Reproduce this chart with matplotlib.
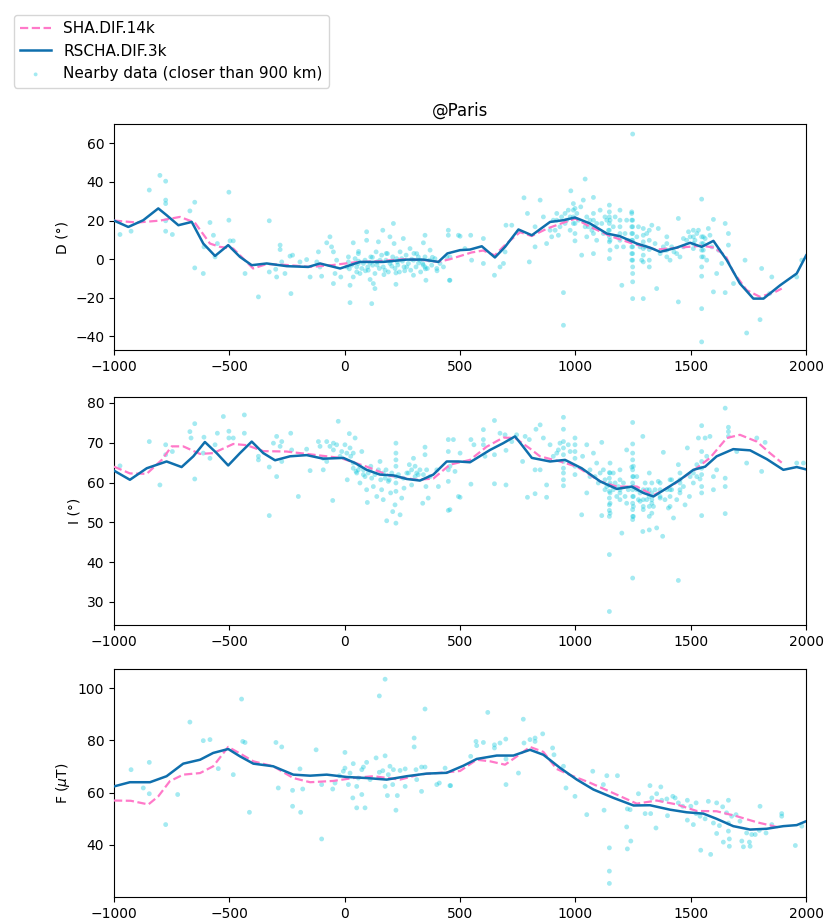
import numpy as np
import matplotlib
matplotlib.use("Agg")
import matplotlib.pyplot as plt

# --- model curves (year, value) ---
rscha_d = np.array([
    [-1000, 20.0], [-938, 16.7], [-873, 20.2], [-808, 26.3], [-772, 22.8], [-721, 17.6],
    [-663, 19.3], [-613, 8.1], [-562, 1.7], [-505, 7.3], [-454, 1.2], [-403, -3.1],
    [-338, -2.2], [-251, -3.6], [-158, -4.0], [-107, -2.2], [-20, -4.8], [66, -1.4],
    [167, -1.4], [269, -0.2], [341, -0.2], [406, -1.4], [445, 3.0], [500, 4.7], [543, 5.0],
    [594, 6.7], [651, 0.9], [695, 6.4], [753, 15.4], [811, 12.4], [890, 19.3], [948, 20.2],
    [998, 21.6], [1063, 18.5], [1136, 13.3], [1193, 11.9], [1266, 8.1], [1323, 6.0],
    [1367, 3.8], [1439, 6.0], [1497, 8.5], [1547, 6.4], [1598, 9.5], [1656, -0.5],
    [1713, -12.6], [1771, -20.4], [1815, -20.4], [1887, -13.5], [1959, -7.4], [2000, 2.0],
])
sha_d = np.array([
    [-1000, 20.0], [-900, 19.0], [-800, 20.0], [-714, 21.9], [-650, 19.0], [-584, 8.1],
    [-541, 6.4], [-483, 5.5], [-397, -4.8], [-338, -2.5], [-250, -3.0], [-150, -4.0],
    [-50, -3.0], [50, -1.5], [150, -1.0], [250, 0.0], [350, -0.5], [406, -1.4], [456, 0.0],
    [550, 3.5], [600, 4.5], [650, 2.0], [700, 8.0], [760, 14.0], [810, 12.0], [880, 16.0],
    [950, 19.0], [1000, 21.0], [1060, 17.0], [1150, 12.0], [1250, 8.0], [1350, 5.0],
    [1450, 6.0], [1550, 7.0], [1600, 6.0], [1650, 2.0], [1684, -6.6], [1742, -16.0],
    [1800, -19.5], [1865, -17.0], [1894, -15.2],
])
rscha_i = np.array([
    [-1000, 63.0], [-931, 60.7], [-858, 63.6], [-772, 65.3], [-707, 63.9], [-656, 66.6],
    [-606, 70.2], [-555, 67.4], [-505, 64.3], [-454, 67.4], [-403, 70.3], [-353, 67.4],
    [-302, 65.6], [-237, 66.6], [-165, 66.9], [-93, 66.0], [-6, 66.2], [45, 64.9], [95, 63.2],
    [153, 62.0], [211, 61.8], [269, 60.9], [326, 60.5], [384, 62.0], [442, 65.3], [492, 65.3],
    [543, 65.1], [630, 68.2], [687, 69.9], [738, 71.6], [767, 69.5], [811, 66.2], [890, 65.3],
    [955, 65.7], [1027, 63.6], [1107, 60.3], [1179, 58.4], [1244, 59.0], [1294, 57.4],
    [1338, 56.5], [1396, 58.6], [1453, 60.7], [1511, 63.2], [1562, 64.0], [1612, 66.6],
    [1684, 68.4], [1757, 68.1], [1829, 65.9], [1901, 63.2], [1959, 63.9], [2000, 63.3],
])
sha_i = np.array([
    [-1000, 64.0], [-931, 62.3], [-858, 62.2], [-793, 65.7], [-750, 69.1], [-700, 69.1],
    [-627, 67.2], [-570, 67.4], [-483, 69.7], [-425, 69.4], [-353, 67.9], [-252, 67.8],
    [-136, 67.0], [-20, 66.2], [95, 64.0], [196, 61.7], [312, 60.7], [384, 61.0], [456, 64.5],
    [543, 65.7], [615, 69.0], [687, 71.3], [738, 71.2], [804, 68.5], [846, 66.6], [933, 65.3],
    [1006, 64.0], [1107, 60.3], [1179, 59.0], [1266, 59.0], [1338, 56.8], [1425, 59.5],
    [1511, 63.0], [1583, 66.2], [1656, 71.2], [1713, 72.0], [1786, 70.3], [1843, 67.4],
    [1894, 65.0],
])
rscha_f = np.array([
    [-1000, 62.4], [-931, 64.0], [-844, 64.0], [-772, 66.3], [-700, 71.1], [-627, 72.6],
    [-570, 75.2], [-505, 76.7], [-454, 73.9], [-396, 71.1], [-310, 70.1], [-223, 66.9],
    [-150, 66.5], [-78, 66.9], [9, 66.0], [95, 65.6], [182, 65.0], [269, 66.3], [355, 67.3],
    [442, 67.6], [514, 70.3], [572, 72.9], [659, 74.2], [731, 74.2], [803, 76.4], [861, 74.5],
    [933, 69.5], [1006, 65.0], [1078, 61.2], [1165, 58.0], [1252, 55.1], [1323, 55.2],
    [1410, 53.5], [1482, 52.5], [1554, 52.0], [1612, 50.0], [1684, 47.2], [1757, 45.9],
    [1829, 46.2], [1901, 47.2], [1959, 47.6], [2000, 49.1],
])
sha_f = np.array([
    [-1000, 57.0], [-927, 56.9], [-851, 55.5], [-808, 58.6], [-758, 64.4], [-700, 66.9],
    [-627, 67.5], [-570, 70.1], [-505, 77.5], [-454, 75.0], [-396, 72.0], [-310, 70.1],
    [-223, 65.6], [-150, 64.0], [-49, 64.5], [37, 65.6], [124, 66.3], [240, 65.0], [326, 67.0],
    [442, 67.8], [500, 68.3], [572, 72.6], [630, 72.0], [695, 70.7], [745, 73.8], [803, 77.5],
    [861, 75.6], [918, 69.1], [976, 66.8], [1063, 63.8], [1165, 59.8], [1266, 55.8],
    [1352, 57.0], [1439, 55.5], [1526, 53.0], [1612, 52.9], [1699, 51.0], [1786, 48.7],
    [1887, 46.6],
])

# --- nearby observations (year, value) ---
d_obs = np.array([
    [-974, 12.8], [-926, 14.5], [-847, 35.8], [-801, 43.4], [-776, 40.4], [-776, 30.6], [-776, 28.8],
    [-776, 19.9], [-776, 14.5], [-747, 12.8], [-671, 25.0], [-650, 29.5], [-650, -4.5], [-613, -7.4],
    [-584, 19.0], [-569, 12.4], [-610, 6.4], [-562, 1.2], [-552, 8.1], [-502, 34.7], [-502, 20.2],
    [-497, 9.5], [-483, 9.5], [-432, -7.4], [-374, -19.5], [-327, 19.9], [-327, -6.6], [-280, 7.3],
    [-280, 5.0], [-299, -5.2], [-295, -9.2], [-273, -1.4], [-259, -7.4], [-237, 1.6], [-233, -17.8],
    [-226, 2.1], [-194, -1.4], [-165, -0.2], [-150, -9.2], [-121, -1.4], [-114, 3.8], [-107, -4.0],
    [-100, -8.8], [-78, 8.5], [-64, 11.6], [-57, 6.4], [-49, 3.8], [-49, -12.6], [-42, -7.4],
    [-35, -0.5], [-17, -9.2], [9, -4.0], [16, 1.2], [23, -13.5], [23, -22.5], [37, -9.2], [37, 8.5],
    [52, -4.0], [59, 2.9], [66, -7.4], [81, -2.2], [95, 14.2], [95, 9.8], [100, -4.0], [110, -10.5],
    [117, -23.0], [124, -12.6], [131, -15.2], [136, 3.8], [146, 9.0], [153, -0.5], [165, 15.0],
    [175, -5.7], [185, 2.9], [196, 11.6], [204, -3.6], [211, 18.5], [214, 8.1], [222, -7.1],
    [222, -13.0], [225, 0.3], [240, 3.8], [254, 10.7], [269, -4.0], [283, 5.5], [298, -8.3],
    [312, 2.9], [326, -0.5], [341, 8.5], [348, 12.4], [348, -4.0], [352, -10.9], [370, 4.7],
    [399, -4.8], [449, 15.0], [449, 12.4], [454, -10.9], [493, 12.4],
    [16, -1.4], [30, -3.1], [45, 0.3], [52, -6.6], [59, -2.2], [74, -4.8], [88, -0.5], [102, -5.7],
    [113, 1.2], [121, -3.1], [131, -7.4], [141, -1.4], [150, -4.8], [160, 2.1], [167, -4.0],
    [179, -0.5], [189, -6.6], [196, -2.2], [208, 1.2], [218, -4.8], [228, -1.4], [237, -6.6],
    [247, 0.3], [257, -4.0], [266, 2.1], [276, -2.2], [286, -5.7], [298, -0.5], [309, -4.0],
    [319, 1.2], [329, -6.6], [338, -2.2], [348, 1.2], [358, -4.8], [367, -0.5], [377, -3.1],
    [391, 0.3], [413, -2.2], [428, -4.0], [442, 1.2],
    [20, -5.0], [60, -1.0], [90, -6.0], [120, 1.0], [140, -3.0], [170, -8.0], [200, -1.0],
    [230, -3.0], [260, -6.0], [290, 0.0], [320, -2.0], [350, -5.0], [380, 1.0], [60, 4.0],
    [110, -2.0], [180, 3.0], [250, -1.0], [300, 3.0], [340, -3.0], [400, -6.0],
    [456, -10.9], [456, 1.2], [500, 11.9], [521, 5.5], [546, 12.4], [550, -0.5], [601, 10.7],
    [601, -2.2], [649, -8.3], [673, -4.0], [688, -2.2], [695, 3.8], [699, 17.6], [724, 17.6],
    [753, 14.2], [777, 31.8], [792, 23.7], [800, -1.4], [825, 16.8], [825, 6.4], [847, 30.6],
    [861, 21.9], [875, 8.1], [890, 15.0], [897, 11.6], [919, 23.7], [919, 20.2], [926, 12.4],
    [940, 21.9], [948, -17.3], [948, -34.2], [955, 23.7], [962, 20.2], [969, 25.4], [980, 35.4],
    [991, 28.8], [998, 26.3], [998, 13.3], [998, 9.5], [1013, 20.2], [1027, 2.1], [1034, 30.6],
    [1042, 41.5], [1049, 21.9], [1056, 16.8], [1078, 32.0], [1078, 2.9], [1092, 18.5],
    [1107, 25.4], [1121, 13.3], [1136, 20.2], [1147, 28.0], [1147, 0.3], [1164, 16.8],
    [1179, 11.6], [1193, 25.4], [1201, -13.5], [1208, 6.4], [1222, 20.2], [1244, 24.5],
    [1248, 64.8], [1248, -20.4], [1248, 20.2], [1248, 16.8], [1248, 13.3], [1248, 9.8],
    [1248, 6.4], [1248, 2.9], [1248, -0.5], [1248, -4.0], [1248, -7.4], [1248, -11.7],
    [1273, 16.8], [1287, -0.5], [1294, -20.4], [1302, 6.4], [1320, 15.0], [1320, 9.8],
    [1320, 5.0], [1320, -0.5], [1320, -4.0], [1331, 17.6], [1352, -15.2], [1359, 15.9],
    [1381, 6.4], [1396, 11.6], [1410, -0.5], [1427, 3.8], [1446, 21.1], [1446, -22.1],
    [1453, 1.2], [1468, 10.7], [1490, 14.2], [1511, 5.5], [1533, 15.0], [1547, 31.1],
    [1547, -4.0], [1547, -8.8], [1547, -25.6], [1547, -42.8], [1547, 11.6], [1547, 8.1],
    [1547, 4.7], [1547, 1.2], [1569, -0.5], [1576, 15.9], [1598, 20.6], [1598, -16.9],
    [1612, -7.4], [1634, -2.2], [1649, 18.5], [1649, -17.3], [1663, 13.3], [1663, 7.3],
    [1685, -12.6], [1735, -0.5], [1742, -38.2], [1800, -31.3], [1807, -4.8], [1841, -17.8],
    [1851, -9.2], [1959, -9.2], [1981, -0.5],
    [904, 20.2], [912, 15.0], [933, 16.8], [955, 18.5], [977, 21.9], [977, 15.0], [998, 18.5],
    [1006, 23.7], [1023, 27.1], [1042, 16.8], [1049, 11.6], [1063, 20.2], [1071, 15.0],
    [1092, 9.8], [1114, 18.5], [1128, 21.9], [1143, 15.0], [1150, 9.8], [1150, 4.7],
    [1150, 20.2], [1172, 21.9], [1179, 6.4], [1193, 16.8], [1215, 13.3], [1229, 9.8],
    [1266, 11.6], [1280, 6.4], [1309, 13.3], [1345, 8.1], [1367, 2.9], [1388, 4.7],
    [1417, 6.4], [1439, 2.9], [1468, 6.4], [1482, 9.8], [1497, 11.6], [1518, 9.8],
    [1526, 13.3], [1562, 10.7], [1583, 12.4], [1591, 6.4], [1620, 4.7],
    [1147, 24.5], [1147, 21.9], [1147, 18.5], [1147, 15.0], [1147, 11.6], [1147, 9.0],
    [1244, 23.7], [1244, 20.2], [1244, 16.8], [1244, 13.3], [1244, 9.8], [1244, 6.4],
    [1244, 2.9], [1244, -0.5], [1294, 15.9], [1294, 12.4], [1294, 9.0], [1294, 5.5],
    [1294, 2.1], [1294, -1.4], [991, 25.4], [991, 21.9], [991, 18.5], [1078, 23.7],
    [1078, 20.2], [1078, 16.8], [1078, 13.3], [1193, 20.2], [1193, 13.3], [1193, 9.8],
    [1396, 8.1], [1396, 4.7], [1396, 1.2], [1511, 15.0], [1511, 11.6], [1511, 8.1],
    [1554, 11.6], [1554, 8.1], [1554, 4.7], [1554, 1.2],
])

i_obs = np.array([
    [-974, 64.2], [-847, 70.3], [-801, 59.4], [-776, 69.5], [-776, 67.0], [-747, 67.8], [-671, 72.8],
    [-666, 71.2], [-650, 74.8], [-650, 60.9], [-613, 67.4], [-610, 71.4], [-584, 66.1], [-562, 69.5],
    [-552, 72.4], [-526, 76.6], [-502, 72.9], [-502, 71.2], [-483, 71.2], [-435, 77.0], [-435, 72.4],
    [-374, 66.6], [-374, 65.7], [-327, 63.9], [-327, 51.7], [-309, 69.9], [-295, 71.6], [-295, 61.5],
    [-280, 69.1], [-273, 70.3], [-273, 65.3], [-234, 72.4], [-230, 68.2], [-201, 56.5], [-165, 68.4],
    [-150, 63.0], [-114, 70.3], [-107, 69.1], [-93, 66.1], [-93, 63.2], [-78, 70.3], [-78, 65.3],
    [-64, 69.1], [-52, 55.5], [-49, 69.9], [-28, 75.4], [-20, 66.6], [1, 69.5], [11, 60.7],
    [20, 72.3], [26, 66.6], [37, 64.9], [45, 71.2], [49, 62.8], [59, 63.2], [66, 59.9], [74, 67.8],
    [81, 62.0], [95, 58.2], [98, 55.0], [110, 63.2], [117, 61.1], [124, 59.0], [139, 56.5],
    [153, 65.3], [160, 58.2], [167, 55.7], [175, 61.1], [182, 50.4], [193, 60.7], [199, 57.4],
    [208, 52.7], [218, 54.4], [222, 69.9], [222, 67.4], [222, 65.7], [222, 64.1], [222, 61.5],
    [222, 59.9], [222, 57.8], [222, 49.8], [240, 51.9], [247, 56.1], [257, 58.6], [269, 62.4],
    [280, 64.5], [290, 59.4], [298, 66.1], [305, 64.1], [312, 62.4], [326, 63.2], [338, 54.8],
    [348, 68.9], [348, 67.0], [352, 59.0], [362, 56.1], [399, 63.2], [406, 59.0], [449, 70.8],
    [449, 67.8], [449, 63.2], [449, 60.3], [449, 53.0], [493, 56.5],
    [37, 63.6], [52, 62.4], [66, 64.1], [81, 63.2], [88, 61.5], [102, 62.4], [113, 64.1],
    [131, 62.0], [146, 63.2], [156, 60.7], [167, 62.4], [179, 63.2], [189, 60.3], [204, 62.4],
    [233, 62.0], [254, 61.1], [276, 62.4], [290, 63.2], [305, 61.5], [319, 62.0], [341, 62.0],
    [355, 63.2], [370, 61.5], [-49, 68.2], [-35, 69.5], [-13, 67.8], [9, 67.4], [23, 68.7],
    [37, 67.4],
    [456, 64.1], [456, 53.2], [471, 70.8], [478, 62.8], [500, 67.4], [500, 56.3], [547, 70.8],
    [547, 59.6], [560, 69.5], [601, 73.3], [601, 70.8], [601, 69.5], [608, 66.6], [649, 75.6],
    [649, 67.0], [649, 59.7], [673, 72.4], [695, 72.0], [699, 68.1], [699, 59.4], [724, 70.3],
    [745, 72.0], [771, 65.3], [782, 71.6], [792, 56.3], [800, 70.8], [825, 63.2], [825, 57.2],
    [829, 73.4], [847, 74.5], [847, 63.2], [861, 71.2], [875, 59.4], [875, 56.3], [890, 69.5],
    [904, 66.6], [919, 67.4], [926, 68.2], [933, 69.9], [948, 76.4], [948, 73.4], [948, 70.3],
    [948, 68.7], [948, 67.0], [948, 65.3], [948, 63.6], [948, 62.4], [948, 60.7], [948, 59.2],
    [969, 69.5], [977, 67.8], [998, 71.2], [998, 69.5], [998, 67.8], [998, 66.1], [998, 64.1],
    [998, 62.0], [1027, 51.9], [1031, 66.6], [1049, 69.5], [1049, 57.4], [1063, 61.5],
    [1078, 67.4], [1092, 64.9], [1114, 70.1], [1114, 51.7], [1121, 63.2], [1128, 58.2],
    [1147, 62.5], [1147, 41.9], [1147, 27.6], [1147, 61.1], [1147, 59.4], [1147, 57.8],
    [1147, 56.1], [1147, 54.4], [1147, 53.0], [1147, 51.5], [1164, 62.4], [1179, 56.5],
    [1201, 47.3], [1208, 59.9], [1222, 68.2], [1229, 58.2], [1244, 63.9], [1248, 75.1],
    [1248, 69.7], [1248, 36.0], [1248, 67.4], [1248, 65.7], [1248, 63.2], [1248, 61.5],
    [1248, 59.9], [1248, 58.2], [1248, 56.5], [1248, 54.8], [1248, 53.2], [1248, 51.5],
    [1248, 50.7], [1266, 61.5], [1280, 55.3], [1292, 71.6], [1292, 47.7], [1302, 59.9],
    [1309, 55.7], [1320, 62.4], [1320, 58.2], [1320, 56.5], [1320, 54.0], [1320, 51.5],
    [1320, 48.1], [1338, 54.0], [1352, 48.6], [1359, 60.3], [1378, 46.5], [1381, 67.6],
    [1388, 55.7], [1403, 53.6], [1417, 60.7], [1425, 51.1], [1439, 55.7], [1446, 64.5],
    [1446, 35.4], [1453, 58.2], [1475, 54.4], [1485, 68.7], [1494, 56.5], [1511, 62.4],
    [1526, 64.5], [1533, 71.2], [1540, 60.9], [1547, 74.3], [1547, 51.7], [1547, 67.8],
    [1547, 65.3], [1547, 63.6], [1547, 62.0], [1547, 59.0], [1547, 57.4], [1562, 71.2],
    [1569, 66.6], [1583, 71.6], [1598, 61.5], [1598, 58.2], [1612, 63.2], [1649, 78.7],
    [1649, 61.1], [1649, 59.0], [1649, 52.2], [1663, 73.9], [1663, 72.8], [1663, 71.6],
    [1699, 67.8], [1742, 64.9], [1786, 71.2], [1807, 62.8], [1822, 70.1], [1959, 64.9],
    [1988, 64.9],
    [1063, 63.2], [1085, 61.5], [1099, 59.9], [1107, 62.4], [1128, 60.7], [1136, 59.0],
    [1164, 58.2], [1172, 59.9], [1186, 59.0], [1193, 57.4], [1215, 56.5], [1222, 54.8],
    [1266, 58.2], [1273, 55.7], [1280, 57.4], [1294, 54.0], [1309, 58.2], [1331, 55.7],
    [1345, 58.2], [1367, 56.5], [1396, 58.2], [1410, 56.5], [1417, 58.2], [1453, 60.7],
    [1468, 59.0], [1497, 61.5], [1511, 59.9], [1526, 61.5],
    [1150, 64.9], [1150, 62.4], [1150, 59.9], [1150, 57.4], [1150, 54.8], [1150, 52.3],
    [1251, 64.1], [1251, 61.5], [1251, 59.0], [1251, 56.5], [1251, 54.0], [1251, 51.5],
    [1294, 58.2], [1294, 55.7], [1294, 53.2], [1331, 59.9], [1331, 57.4], [1331, 54.8],
    [1331, 52.3], [1367, 59.9], [1367, 58.2], [1367, 56.1], [1410, 60.7], [1410, 58.2],
    [1410, 54.0], [1453, 62.4], [1453, 59.9], [1453, 57.4], [1193, 63.2], [1193, 60.7],
    [1193, 58.2], [1193, 55.7],
])

f_obs = np.array([
    [-926, 68.8], [-873, 61.8], [-847, 71.6], [-847, 59.6], [-776, 47.8], [-724, 59.3], [-671, 87.0],
    [-613, 79.9], [-584, 80.3], [-548, 69.2], [-483, 66.9], [-447, 95.8], [-442, 79.6], [-432, 79.2],
    [-413, 52.5], [-298, 79.2], [-288, 61.8], [-273, 77.5], [-226, 60.9], [-226, 54.8], [-194, 69.1],
    [-191, 52.5], [-182, 61.4], [-124, 76.4], [-100, 63.1], [-100, 42.3], [-52, 61.4], [-42, 63.7],
    [-23, 66.5], [-6, 68.2], [1, 75.4], [1, 69.4], [16, 63.1], [23, 67.5], [35, 58.0], [37, 71.1],
    [52, 62.4], [52, 54.2], [59, 65.6], [74, 59.3], [74, 68.8], [81, 69.8], [88, 54.2], [95, 71.6],
    [110, 65.0], [136, 73.3], [150, 97.0], [150, 67.8], [165, 68.4], [175, 103.4], [175, 74.1],
    [175, 62.4], [185, 58.9], [189, 66.9], [196, 70.1], [208, 63.1], [211, 68.8], [222, 53.3],
    [228, 58.9], [240, 68.5], [262, 62.4], [262, 69.1], [301, 80.9], [301, 77.5], [309, 68.8],
    [312, 65.0], [333, 69.8], [333, 60.5], [348, 92.0], [348, 69.8], [399, 63.1], [410, 63.7],
    [435, 69.4], [459, 62.7],
    [456, 62.7], [546, 73.9], [569, 79.6], [572, 78.0], [601, 79.2], [620, 90.7], [649, 78.3],
    [649, 77.1], [673, 79.0], [698, 80.5], [699, 72.9], [699, 63.1], [753, 67.5], [774, 88.1],
    [777, 79.0], [803, 80.3], [825, 80.9], [825, 79.6], [858, 82.5], [901, 77.1], [907, 74.5],
    [948, 70.1], [959, 61.8], [998, 58.6], [1049, 51.6], [1075, 68.2], [1121, 63.1], [1124, 53.3],
    [1136, 66.5], [1147, 38.9], [1147, 30.0], [1147, 25.3], [1182, 66.5], [1222, 46.9],
    [1225, 53.8], [1225, 38.5], [1237, 53.5], [1240, 41.5], [1273, 59.6], [1302, 52.0],
    [1323, 62.7], [1326, 52.0], [1331, 58.0], [1349, 46.5], [1352, 59.6], [1370, 62.2],
    [1374, 57.1], [1396, 57.6], [1399, 51.2], [1422, 58.6], [1432, 58.0], [1446, 56.1],
    [1465, 54.8], [1485, 57.1], [1485, 49.5], [1500, 54.8], [1511, 47.8], [1523, 56.1],
    [1523, 52.0], [1540, 51.0], [1543, 38.0], [1562, 50.0], [1576, 56.7], [1586, 36.4],
    [1598, 48.4], [1612, 56.1], [1612, 44.4], [1624, 47.4], [1638, 54.6], [1641, 41.1],
    [1655, 52.3], [1663, 57.1], [1663, 48.4], [1663, 45.3], [1667, 42.3], [1667, 39.5],
    [1677, 51.0], [1696, 51.6], [1713, 49.1], [1721, 41.5], [1728, 39.3], [1742, 44.6],
    [1754, 41.1], [1757, 39.5], [1764, 44.0], [1779, 44.0], [1797, 45.6], [1800, 54.8],
    [1826, 44.6], [1851, 47.8], [1894, 52.0], [1894, 51.0], [1953, 39.8], [1981, 47.2],
])

panels = [
    ("D (°)", d_obs, sha_d, rscha_d, (-47, 70), [-40, -20, 0, 20, 40, 60]),
    ("I (°)", i_obs, sha_i, rscha_i, (24.2, 81.5), [30, 40, 50, 60, 70, 80]),
    (r"F ($\mu$T)", f_obs, sha_f, rscha_f, (20.1, 107.3), [40, 60, 80, 100]),
]

sha_color = "#ff79c9"
rscha_color = "#0f6fad"
data_color = "#10c8dc"

fig = plt.figure(figsize=(8.26, 9.22), dpi=100)
axes_pos = [
    [0.138, 0.6204, 0.838, 0.2451],
    [0.138, 0.3221, 0.838, 0.2473],
    [0.138, 0.0271, 0.838, 0.2473],
]

for pos, (label, obs, sha, rscha, ylim, yticks) in zip(axes_pos, panels):
    ax = fig.add_axes(pos)
    ax.plot(sha[:, 0], sha[:, 1], color=sha_color, ls="--", lw=1.6,
            label="SHA.DIF.14k", zorder=3)
    ax.plot(rscha[:, 0], rscha[:, 1], color=rscha_color, lw=1.8,
            label="RSCHA.DIF.3k", zorder=4)
    ax.scatter(obs[:, 0], obs[:, 1], s=12, color=data_color, alpha=0.38,
               edgecolors="none", label="Nearby data (closer than 900 km)", zorder=2)
    ax.set_xlim(-1000, 2000)
    ax.set_xticks([-1000, -500, 0, 500, 1000, 1500, 2000])
    ax.set_ylim(*ylim)
    ax.set_yticks(yticks)
    ax.set_ylabel(label)
    if label.startswith("D"):
        ax.set_title("@Paris", fontsize=12)
        handles, labels = ax.get_legend_handles_labels()

fig.legend(handles, labels, loc="upper left", bbox_to_anchor=(0.008, 0.992),
           fontsize=11, markerscale=0.8)

fig.savefig("out.png", dpi=100)
